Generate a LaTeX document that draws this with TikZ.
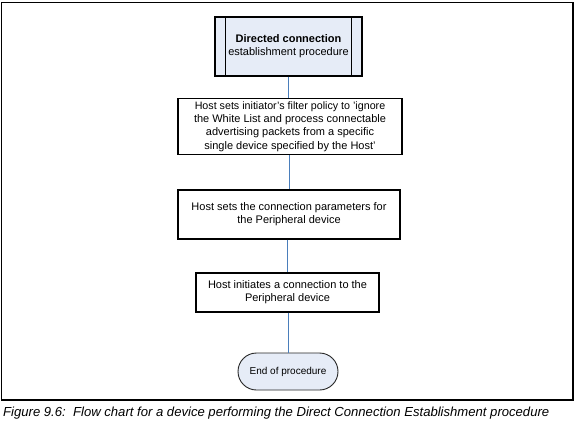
\documentclass[tikz,border=0pt]{standalone}
\usepackage{fontspec}
\setmainfont{Liberation Sans}
\usetikzlibrary{shapes.misc}
\definecolor{conblue}{HTML}{4A7EBB}
\definecolor{fillblue}{HTML}{E6ECF7}
\tikzset{
  every node/.style={font=\fontsize{11}{13.3}\selectfont, inner sep=0pt, align=center},
  procbox/.style={draw=black, line width=1.1pt, rectangle},
  startbox/.style={procbox, fill=fillblue},
  termbox/.style={draw=black!85, line width=0.9pt, fill=fillblue, rounded rectangle, font=\fontsize{10}{12}\selectfont},
  conn/.style={draw=conblue, line width=0.9pt},
}
\begin{document}
\begin{tikzpicture}[x=1pt,y=-1pt]
\useasboundingbox (0,0) rectangle (576,426);
\draw[line width=1.2pt] (1.5,2.5) rectangle (573,400);
\node[startbox, minimum width=147pt, minimum height=59pt] (start) at (288.5,46.5)
  {\textbf{Directed connection}\\establishment procedure};
\draw[line width=1.1pt] ([xshift=11pt]start.north west) -- ([xshift=11pt]start.south west);
\draw[line width=1.1pt] ([xshift=-11pt]start.north east) -- ([xshift=-11pt]start.south east);
\node[procbox, minimum width=224pt, minimum height=56pt] (b1) at (290,126.5)
  {\fontsize{10.7}{13.3}\selectfont Host sets initiator's filter policy to 'ignore\\the White List and process connectable\\advertising packets from a specific\\single device specified by the Host'};
\node[procbox, minimum width=222pt, minimum height=49pt] (b2) at (289,214.5)
  {Host sets the connection parameters for\\the Peripheral device};
\node[procbox, minimum width=183pt, minimum height=39pt] (b3) at (287.5,292.5)
  {Host initiates a connection to the\\Peripheral device};
\node[termbox, minimum width=100pt, minimum height=37pt] (end) at (288,371.5)
  {End of procedure};
\draw[conn] (start.south) -- (start.south |- b1.north);
\draw[conn] (b1.south -| b2.north) -- (b2.north);
\draw[conn] (b2.south -| b3.north) -- (b3.north);
\draw[conn] (b3.south -| end.north) -- (end.north);
\node[anchor=west, font=\fontsize{13.1}{15}\selectfont\itshape] (cap) at (3,413)
  {Figure 9.6:\ \ Flow chart for a device performing the Direct Connection Establishment procedure};
\end{tikzpicture}
\end{document}
